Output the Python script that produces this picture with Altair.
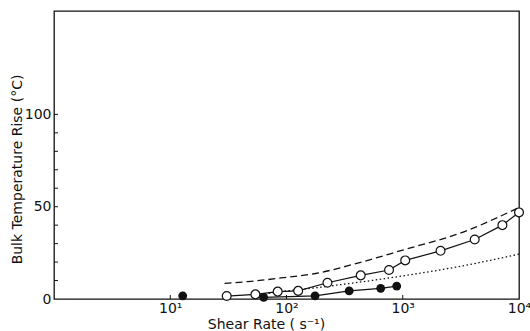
import altair as alt
import pandas as pd

# ---- data ----
open_x = [30.6, 54, 84, 126, 225, 435, 762, 1050, 2114, 4159, 7195, 10000]
open_y = [1.6, 2.5, 4.0, 4.4, 8.8, 12.8, 15.7, 20.9, 26.1, 32.2, 40.0, 46.9]

filled_x = [12.8, 63.6, 176, 346, 646, 887]
filled_y = [1.7, 0.9, 1.7, 4.4, 5.8, 7.0]

dashed_x = [29.3, 50, 89.7, 191, 381, 1000, 3350, 10000]
dashed_y = [8.5, 9.6, 11.4, 14.2, 18.9, 26.5, 36.4, 49.6]

dotted_x = [60, 71, 191, 1000, 3000, 10000]
dotted_y = [2.3, 3.1, 6.3, 12.5, 17.5, 24.3]

x_tick_values = [10, 100, 1000, 10000]
y_label_values = [0, 50, 100]
y_tick_values = [10, 20, 30, 40, 50, 60, 70, 80, 90, 100]

x_title = "Shear Rate ( s⁻¹)"
y_title = "Bulk Temperature Rise (°C)"

W, H = 465, 288
INK = "#111111"
FONT = "DejaVu Sans"

df_open = pd.DataFrame({"x": open_x, "y": open_y})
df_filled = pd.DataFrame({"x": filled_x, "y": filled_y})
df_filled_line = df_filled.iloc[1:]
df_dash = pd.DataFrame({"x": dashed_x, "y": dashed_y})
df_dot = pd.DataFrame({"x": dotted_x, "y": dotted_y})
df_xt = pd.DataFrame({"x": x_tick_values[:-1]})
df_yt = pd.DataFrame({"y": y_tick_values})

xs = alt.Scale(type="log", domain=[1, 10000], nice=False)
ys = alt.Scale(domain=[0, 156], nice=False, zero=False)

x_axis = alt.Axis(
    values=x_tick_values,
    labelExpr="datum.value==10?'10¹':datum.value==100?'10²':datum.value==1000?'10³':'10⁴'",
    ticks=False, domain=False, grid=False,
    labelFont=FONT, labelFontSize=14, labelPadding=2, labelColor=INK,
    labelFlush=False, labelOverlap=False,
    title=x_title, titleFont=FONT, titleFontSize=14, titleFontWeight="normal",
    titleColor=INK, titleX=212, titleY=29, titleAlign="center",
    titleBaseline="alphabetic",
)
y_axis = alt.Axis(
    values=y_label_values,
    ticks=False, domain=False, grid=False,
    labelFont=FONT, labelFontSize=14, labelPadding=3, labelColor=INK,
    labelFlush=False, labelOverlap=False,
    title=y_title, titleFont=FONT, titleFontSize=14, titleFontWeight="normal",
    titleColor=INK, titleAngle=270, titleX=-37, titleY=158, titleAlign="center",
    titleBaseline="middle",
)

X = alt.X("x:Q", scale=xs, axis=x_axis)
Y = alt.Y("y:Q", scale=ys, axis=y_axis)

open_line = alt.Chart(df_open).mark_line(color=INK, strokeWidth=1.2).encode(x=X, y=Y)
filled_line = alt.Chart(df_filled_line).mark_line(color=INK, strokeWidth=1.2).encode(x=X, y=Y)
dash_line = alt.Chart(df_dash).mark_line(
    color=INK, strokeWidth=1.3, strokeDash=[7, 4], interpolate="monotone"
).encode(x=X, y=Y)
dot_line = alt.Chart(df_dot).mark_line(
    color=INK, strokeWidth=1.3, strokeDash=[1.5, 2.5], interpolate="monotone"
).encode(x=X, y=Y)
open_pts = alt.Chart(df_open).mark_point(
    shape="circle", filled=True, fill="white", stroke=INK, strokeWidth=1.2,
    size=78, opacity=1,
).encode(x=X, y=Y)
filled_pts = alt.Chart(df_filled).mark_point(
    shape="circle", filled=True, color=INK, size=78, opacity=1
).encode(x=X, y=Y)

x_ticks = alt.Chart(df_xt).mark_rule(color=INK, strokeWidth=1).encode(
    x=X, y=alt.value(H), y2=alt.value(H - 4)
)
y_ticks = alt.Chart(df_yt).mark_rule(color=INK, strokeWidth=1).encode(
    y=Y, x=alt.value(0), x2=alt.value(4)
)

chart = alt.layer(
    x_ticks, y_ticks, dash_line, dot_line, open_line, filled_line, open_pts, filled_pts
).properties(
    width=W, height=H,
    padding={"left": 54, "top": 11, "right": 11, "bottom": 32},
    autosize="none",
    background="white",
).configure_view(stroke=INK, strokeWidth=1.3)

chart.save("out.html", embed_options={"renderer": "svg", "actions": False})
